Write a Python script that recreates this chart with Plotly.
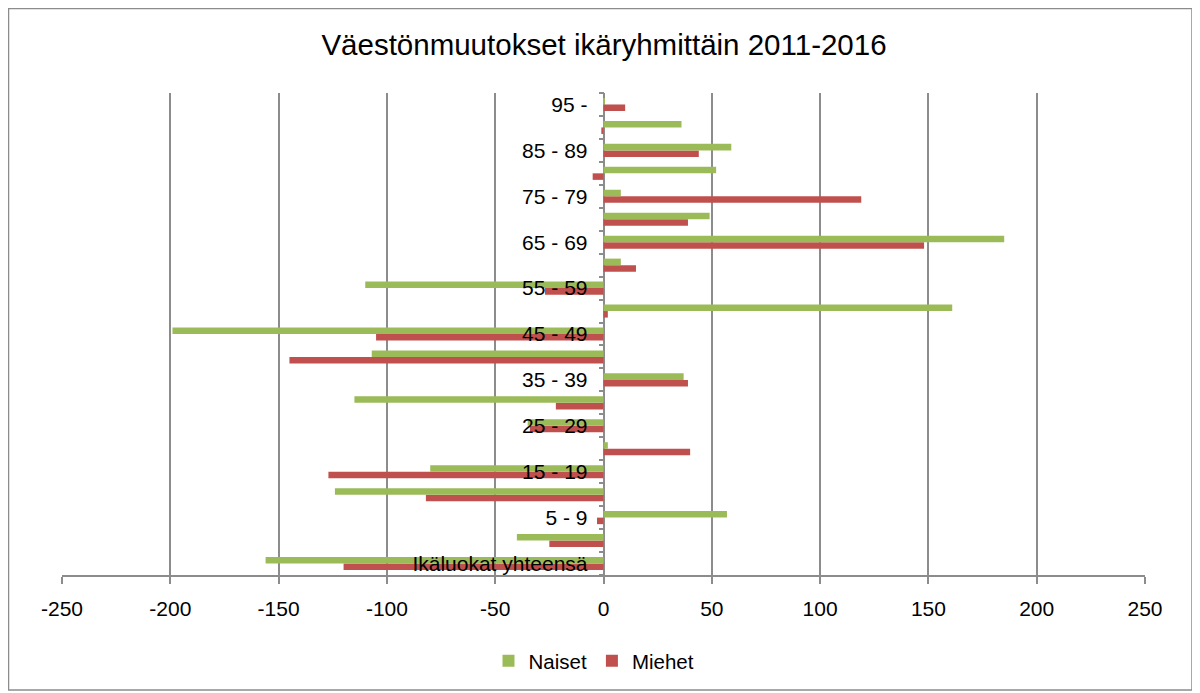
import plotly.graph_objects as go

categories = ["Ikäluokat yhteensä", "0 - 4", "5 - 9", "10 - 14", "15 - 19", "20 - 24",
              "25 - 29", "30 - 34", "35 - 39", "40 - 44", "45 - 49", "50 - 54",
              "55 - 59", "60 - 64", "65 - 69", "70 - 74", "75 - 79", "80 - 84",
              "85 - 89", "90 - 94", "95 -"]
naiset = [-156, -40, 57, -124, -80, 2, -35, -115, 37, -107, -199, 161,
          -110, 8, 185, 49, 8, 52, 59, 36, 0.5]
miehet = [-120, -25, -3, -82, -127, 40, -34, -22, 39, -145, -105, 2,
          -27, 15, 148, 39, 119, -5, 44, -1, 10]
x_ticks = [-250, -200, -150, -100, -50, 0, 50, 100, 150, 200, 250]

GREEN = "#9BBB59"
RED = "#C0504D"
GRID = "#8c8c8c"
FONT = "Liberation Sans, Arial, sans-serif"

ypos = list(range(len(categories)))

fig = go.Figure()
fig.add_trace(go.Bar(y=ypos, x=miehet, orientation="h", name="Miehet",
                     marker=dict(color=RED, line=dict(width=0)), legendrank=2))
fig.add_trace(go.Bar(y=ypos, x=naiset, orientation="h", name="Naiset",
                     marker=dict(color=GREEN, line=dict(width=0)), legendrank=1))

# page body has an 8px margin: figure coordinates = reference pixels - 8
OFF = 8
W, H = 1192, 685
L, R, T, B = 62 - OFF, W - (1145 - OFF), 93 - OFF, H - (575 - OFF)
pw, ph = W - L - R, H - T - B

def px_x(p):
    return (p - OFF - L) / pw

def px_y(p):
    return (H - B - (p - OFF)) / ph

fig.update_layout(
    width=W, height=H,
    margin=dict(l=L, r=R, t=T, b=B),
    paper_bgcolor="white", plot_bgcolor="white",
    barmode="group", bargap=0.43, bargroupgap=0,
    font=dict(family=FONT, color="black", size=21),
    title=dict(text="Väestönmuutokset ikäryhmittäin 2011-2016",
               x=0.5, xanchor="center", y=1 - (45 - OFF) / H, yanchor="middle",
               font=dict(size=29.5, family=FONT)),
    showlegend=True,
    legend=dict(orientation="h", x=px_x(594), xanchor="center",
                y=px_y(661), yanchor="middle", font=dict(size=20.5),
                itemwidth=30, tracegroupgap=0),
    xaxis=dict(range=[-250, 250], tickvals=x_ticks, ticktext=[str(v) for v in x_ticks],
               showgrid=True, gridcolor=GRID, gridwidth=1.5, zeroline=False,
               showline=True, linecolor=GRID, linewidth=2,
               ticks="outside", ticklen=7, tickcolor=GRID, tickwidth=1.5,
               ticklabelstandoff=7, tickfont=dict(size=21), fixedrange=True),
    yaxis=dict(range=[-0.5, len(categories) - 0.5],
               tickvals=ypos[::2], ticktext=categories[::2],
               showgrid=False, zeroline=False, showline=False,
               anchor="free", position=0.5,
               ticks="", tickfont=dict(size=21), ticklabelstandoff=16,
               minor=dict(ticks="outside", tick0=-0.5, dtick=1, ticklen=5,
                          tickcolor=GRID, tickwidth=1.5),
               fixedrange=True),
)

# outer chart border
fig.add_shape(type="rect", xref="paper", yref="paper",
              x0=px_x(8.5), x1=px_x(1192), y0=px_y(690), y1=px_y(8.5),
              line=dict(color="#8c8c8c", width=1.5), fillcolor="rgba(0,0,0,0)",
              layer="below")

fig.write_html("out.html")
